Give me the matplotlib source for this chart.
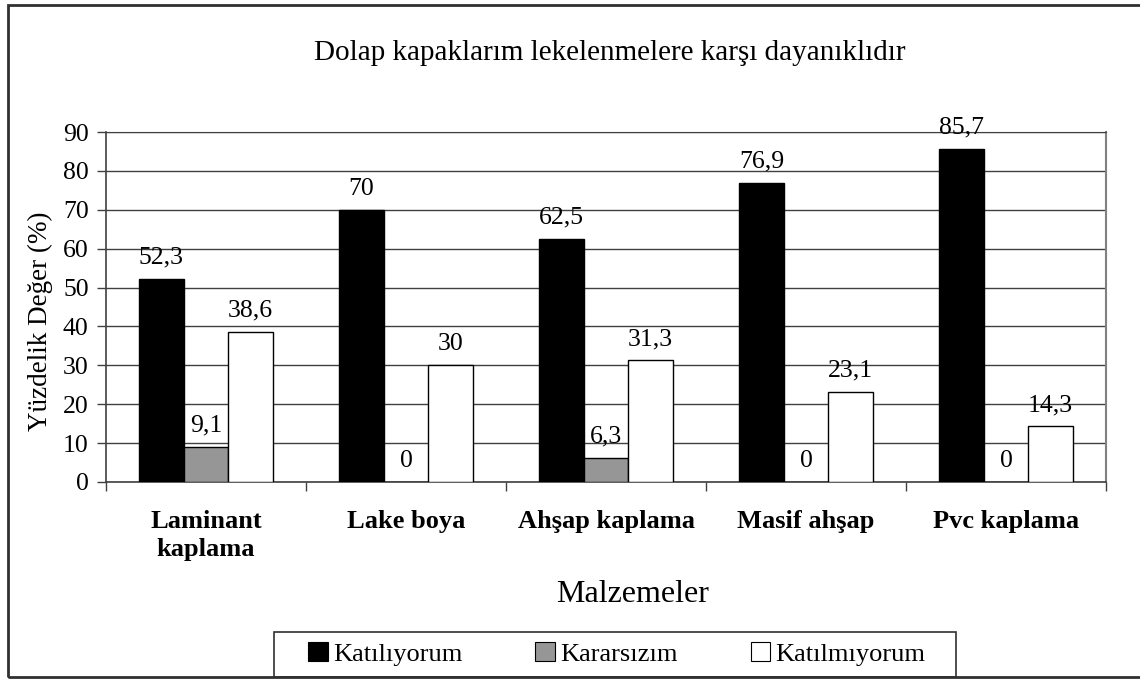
import matplotlib
matplotlib.use("Agg")
import matplotlib.pyplot as plt
from matplotlib.patches import Rectangle, Patch
import numpy as np

categories = ["Laminant\nkaplama", "Lake boya", "Ahşap kaplama", "Masif ahşap", "Pvc kaplama"]
series_names = ["Katılıyorum", "Kararsızım", "Katılmıyorum"]
katiliyorum = [52.3, 70, 62.5, 76.9, 85.7]
kararsizim = [9.1, 0, 6.3, 0, 0]
katilmiyorum = [38.6, 30, 31.3, 23.1, 14.3]
colors = ["#000000", "#969696", "#ffffff"]
yticks = [0, 10, 20, 30, 40, 50, 60, 70, 80, 90]

plt.rcParams['font.family'] = ['Liberation Serif', 'DejaVu Serif']

W, H = 1140, 679
fig = plt.figure(figsize=(W/100, H/100), dpi=100)
ax = fig.add_axes([106/W, 1-482/H, 1000/W, 350/H])

x = np.arange(len(categories))
w = 0.223
data = [katiliyorum, kararsizim, katilmiyorum]
for k, (vals, col) in enumerate(zip(data, colors)):
    pos = x + (k-1)*w
    ax.bar(pos, vals, width=w, color=col, edgecolor='black', linewidth=1.0, zorder=3)
    for px, v in zip(pos, vals):
        lab = ("%g" % v).replace('.', ',')
        ax.annotate(lab, (px, v), xytext=(0, 11), textcoords='offset points',
                    ha='center', va='baseline', fontsize=18.5, zorder=4)

ax.set_xlim(-0.5, len(categories)-0.5)
ax.set_ylim(0, 90)
ax.set_yticks(yticks)
ax.set_yticklabels([str(t) for t in yticks], fontsize=18.5)
ax.yaxis.grid(True, color='#404040', linewidth=1.0, zorder=0)
ax.set_axisbelow(True)
ax.tick_params(axis='y', direction='out', length=6.5, width=1, color='#404040', pad=6)
ax.set_xticks(np.arange(len(categories)+1) - 0.5)
ax.set_xticklabels([])
ax.tick_params(axis='x', direction='out', length=6.5, width=1, color='#404040')
for i, c in enumerate(categories):
    ax.text(i, -28/350, c, transform=ax.get_xaxis_transform(), ha='center', va='top',
            fontsize=19, fontweight='bold', linespacing=1.3)

for s in ['left', 'bottom']:
    ax.spines[s].set_color('#404040')
    ax.spines[s].set_linewidth(1.2)
ax.spines['right'].set_color('#808080')
ax.spines['right'].set_linewidth(1.5)
ax.spines['top'].set_color('#404040')

fig.text(40/W, 1-321/H, "Yüzdelik Değer (%)", rotation=90, ha='center', va='center',
         fontsize=19.5)
fig.text(633/W, 1-602/H, "Malzemeler", ha='center', va='baseline', fontsize=23)
fig.text(610/W, 1-60/H, "Dolap kapaklarım lekelenmelere karşı dayanıklıdır",
         ha='center', va='baseline', fontsize=21)

handles = [Patch(facecolor=c, edgecolor='black', linewidth=0.8) for c in colors]
leg = fig.legend(handles, series_names, loc='center', bbox_to_anchor=(617/W, 1-654/H),
                 ncol=3, fontsize=19, frameon=False, handlelength=0.75,
                 handleheight=0.75, handletextpad=0.2, columnspacing=2.75,
                 borderpad=0.3, borderaxespad=0)
fig.add_artist(Rectangle((274/W, 1-677/H), (956-274)/W, 45/H, transform=fig.transFigure,
                         fill=False, edgecolor='#303030', linewidth=1.2))

fig.add_artist(Rectangle((8/W, 2/H), 1.2, 1-7/H, transform=fig.transFigure,
                         fill=False, edgecolor='#303030', linewidth=2))

fig.savefig("out.png", dpi=100)
